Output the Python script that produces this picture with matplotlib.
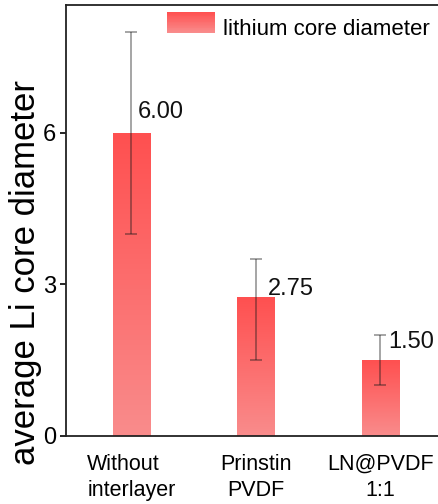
import numpy as np
import matplotlib
matplotlib.use("Agg")
import matplotlib.pyplot as plt
from matplotlib.colors import LinearSegmentedColormap
from matplotlib.patches import Rectangle
from matplotlib.legend_handler import HandlerBase

plt.rcParams['font.family'] = ['Liberation Sans', 'DejaVu Sans']

categories = ["Without\ninterlayer", "Prinstin\nPVDF", "LN@PVDF\n1:1"]
values = [6.00, 2.75, 1.50]
err_low = [2.0, 1.25, 0.5]
err_high = [2.0, 0.75, 0.5]
series_name = "lithium core diameter"
yticks = [0, 3, 6]

# gradient: strong red at the top fading to pink at the bottom
grad_cmap = LinearSegmentedColormap.from_list("bar_grad", ["#f98c8c", "#ff5050"])

fig = plt.figure(figsize=(4.39, 5.04), dpi=100)
ax = fig.add_axes([0.1503, 0.1355, 0.863, 0.8546])

x = np.arange(len(categories))
width = 0.3
bars = ax.bar(x, values, width=width, facecolor="none", edgecolor="none", zorder=2)

gradient = np.linspace(0, 1, 256).reshape(-1, 1)
for rect in bars:
    x0, y0 = rect.get_x(), rect.get_y()
    w, h = rect.get_width(), rect.get_height()
    im = ax.imshow(gradient, cmap=grad_cmap, origin="lower", aspect="auto",
                   extent=(x0, x0 + w, y0, y0 + h), zorder=2)
    im.set_clip_path(rect)

ax.errorbar(x, values, yerr=[err_low, err_high], fmt="none",
            ecolor=(0.1, 0.1, 0.1, 0.5), elinewidth=1.1, capsize=4.5,
            capthick=1.1, zorder=3)

label_dx = [0.05, 0.10, 0.06]
label_dy = [0.29, 0.04, 0.24]
for xi, v, dx, dy in zip(x, values, label_dx, label_dy):
    ax.text(xi + dx, v + dy, f"{v:.2f}", fontsize=17, ha="left",
            va="baseline", color="#111111", zorder=4)

ax.set_xlim(-0.526, 2.518)
ax.set_ylim(0, 8.53)
ax.set_yticks(yticks)
ax.set_yticklabels([str(t) for t in yticks])
ax.set_xticks(x)
ticklabels = ax.set_xticklabels(categories, fontsize=15.5, linespacing=1.3)
ticklabels[0].set_multialignment("left")
ax.tick_params(axis="x", length=0, pad=13)
ax.tick_params(axis="y", direction="out", length=4, width=1.2, labelsize=17, pad=3)
ax.set_ylabel("average Li core diameter", fontsize=25)
ax.yaxis.set_label_coords(-0.062, 0.38)

for side in ["left", "bottom", "top"]:
    ax.spines[side].set_linewidth(1.3)
    ax.spines[side].set_color("#222222")
ax.spines["right"].set_visible(False)


class GradientHandler(HandlerBase):
    def create_artists(self, legend, orig_handle, xdescent, ydescent,
                       width, height, fontsize, trans):
        n = 24
        arts = []
        for i in range(n):
            c = grad_cmap(i / (n - 1))
            arts.append(Rectangle((xdescent, ydescent + height * i / n),
                                  width, height / n + 0.3, facecolor=c,
                                  edgecolor="none", transform=trans))
        return arts


proxy = Rectangle((0, 0), 1, 1)
ax.legend([proxy], [series_name], handler_map={Rectangle: GradientHandler()},
          loc="upper left", bbox_to_anchor=(0.266, 0.971), frameon=False,
          fontsize=16, handlelength=2.16, handleheight=1.04,
          handletextpad=0.36, borderaxespad=0.0, borderpad=0.0)

fig.savefig("out.png", dpi=100)
